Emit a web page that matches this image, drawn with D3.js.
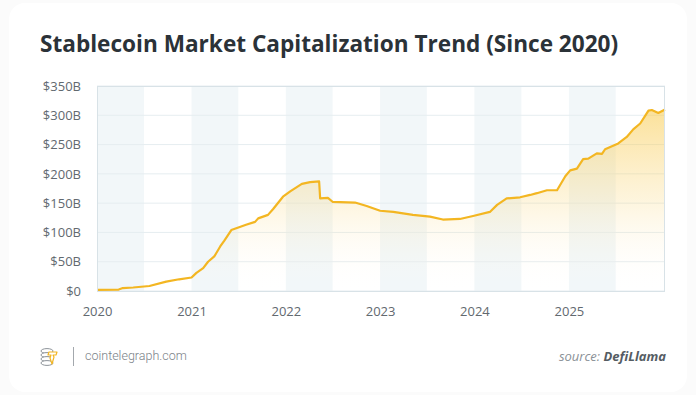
<!DOCTYPE html>
<html>
<head>
<meta charset="utf-8">
<title>Stablecoin Market Capitalization Trend</title>
<script src="https://cdn.jsdelivr.net/npm/d3@7"></script>
<style>
  html, body { margin: 0; padding: 0; background: #fbfbfb; }
  svg { display: block; }
</style>
</head>
<body>
<script>
// data (billions of USD)
var dates = ["2020-01-01","2020-03-25","2020-04-10","2020-05-20","2020-07-22","2020-09-25","2020-11-14","2021-01-01",
  "2021-01-20","2021-02-15","2021-03-06","2021-03-30","2021-04-22","2021-05-08","2021-06-04","2021-06-23","2021-07-31",
  "2021-09-04","2021-09-16","2021-10-24","2021-11-13","2021-12-21","2022-01-18","2022-03-04","2022-04-05","2022-05-10",
  "2022-05-14","2022-06-13","2022-07-02","2022-09-26","2022-11-10","2023-01-01","2023-02-21","2023-05-08","2023-07-13",
  "2023-09-01","2023-11-06","2023-12-27","2024-03-01","2024-03-29","2024-05-05","2024-06-26","2024-08-04","2024-08-30",
  "2024-10-08","2024-11-16","2024-12-18","2025-01-06","2025-02-01","2025-02-25","2025-03-17","2025-04-19","2025-05-09",
  "2025-05-21","2025-07-11","2025-08-13","2025-09-07","2025-10-04","2025-11-05","2025-11-18","2025-12-13","2026-01-08"];
var caps = [2,2.5,5,6,8.5,16,20,23,
  31,39,50,59,76,86,104,107,113,
  118,124,130,140,161,170,183,186,187,
  158,159,152,151,145,137,135,130,127,
  122,123,128,135,147,158,160,164,167,
  172,172,196,206,209,225,226,235,234,
  242,252,263,276,286,308,309,304,310];
var yTicks = [0, 50, 100, 150, 200, 250, 300, 350];
var yearTicks = [2020, 2021, 2022, 2023, 2024, 2025];

var W = 696, H = 395;
var m = {left: 97, right: 665, top: 86, bottom: 291};
var parse = d3.timeParse("%Y-%m-%d");
var data = dates.map(function (d, i) { return {date: parse(d), v: caps[i]}; });

var svg = d3.select("body").append("svg").attr("width", W).attr("height", H);

// card
svg.append("rect").attr("x", 9).attr("y", 3).attr("width", W - 18).attr("height", H - 6)
  .attr("rx", 16).attr("fill", "#ffffff");

svg.append("text").attr("x", 40).attr("y", 52)
  .attr("font-family", "Open Sans").attr("font-weight", 700).attr("font-size", 22.6)
  .attr("fill", "#2b3238")
  .text("Stablecoin Market Capitalization Trend (Since 2020)");

var x = d3.scaleTime().domain([parse("2020-01-01"), parse("2026-01-08")]).range([m.left, m.right]);
var y = d3.scaleLinear().domain([0, 350]).range([m.bottom, m.top]);

// half-year bands
svg.append("g").selectAll("rect").data(yearTicks).enter().append("rect")
  .attr("x", function (d) { return x(new Date(d, 0, 1)); })
  .attr("width", function (d) { return x(new Date(d, 6, 1)) - x(new Date(d, 0, 1)); })
  .attr("y", m.top).attr("height", m.bottom - m.top)
  .attr("fill", "#f2f7f9");

// gridlines
svg.append("g").selectAll("line").data(yTicks).enter().append("line")
  .attr("x1", m.left).attr("x2", m.right)
  .attr("y1", function (d) { return y(d); }).attr("y2", function (d) { return y(d); })
  .attr("stroke", "#e6edf0").attr("stroke-width", 1);

var defs = svg.append("defs");
var grad = defs.append("linearGradient").attr("id", "fillGrad")
  .attr("gradientUnits", "userSpaceOnUse").attr("x1", 0).attr("x2", 0).attr("y1", m.top).attr("y2", m.bottom);
grad.append("stop").attr("offset", "0%").attr("stop-color", "#f8c842").attr("stop-opacity", 0.65);
grad.append("stop").attr("offset", "55%").attr("stop-color", "#f9d473").attr("stop-opacity", 0.25);
grad.append("stop").attr("offset", "100%").attr("stop-color", "#ffffff").attr("stop-opacity", 0);

var area = d3.area().x(function (d) { return x(d.date); }).y0(m.bottom).y1(function (d) { return y(d.v); });
var line = d3.line().x(function (d) { return x(d.date); }).y(function (d) { return y(d.v); });

svg.append("path").datum(data).attr("d", area).attr("fill", "url(#fillGrad)");
svg.append("path").datum(data).attr("d", line).attr("fill", "none")
  .attr("stroke", "#f3b622").attr("stroke-width", 2.2).attr("stroke-linejoin", "round");

// plot frame
svg.append("rect").attr("x", m.left + 0.5).attr("y", m.top + 0.5)
  .attr("width", m.right - m.left - 1).attr("height", m.bottom - m.top)
  .attr("fill", "none").attr("stroke", "#d8e2e7");

// axes
var yAxis = d3.axisLeft(y).tickValues(yTicks).tickSize(0).tickPadding(16)
  .tickFormat(function (d) { return d === 0 ? "$0" : "$" + d + "B"; });
var gy = svg.append("g").attr("transform", "translate(" + m.left + ",0)").call(yAxis);
gy.select(".domain").remove();
gy.selectAll("text").attr("font-family", "Open Sans").attr("font-size", 13).attr("fill", "#62696f");

var xAxis = d3.axisBottom(x).tickValues(yearTicks.map(function (d) { return new Date(d, 0, 1); }))
  .tickSize(0).tickPadding(16).tickFormat(d3.timeFormat("%Y"));
var gx = svg.append("g").attr("transform", "translate(0," + m.bottom + ")").call(xAxis);
gx.select(".domain").remove();
gx.selectAll("text").attr("font-family", "Open Sans").attr("font-size", 13).attr("fill", "#62696f");

// footer
var logo = svg.append("g").attr("transform", "translate(41,348)");
[0, 4, 8, 12].forEach(function (dy) {
  logo.append("ellipse").attr("cx", 6).attr("cy", 3 + dy).attr("rx", 6).attr("ry", 2.4)
    .attr("fill", "#fff").attr("stroke", "#8d9399").attr("stroke-width", 1);
});
logo.append("path").attr("d", "M8,4 L16,4 L15,7 L12,7 L13,9 L11,16 L9,10 L10,7 L7,7 Z")
  .attr("fill", "#fff").attr("stroke", "#f3b622").attr("stroke-width", 1.2).attr("stroke-linejoin", "round");
svg.append("line").attr("x1", 73.5).attr("x2", 73.5).attr("y1", 347).attr("y2", 366)
  .attr("stroke", "#a3a8ad").attr("stroke-width", 1);
svg.append("text").attr("x", 85).attr("y", 360)
  .attr("font-family", "Roboto").attr("font-weight", 300).attr("font-size", 12.5).attr("fill", "#7b8288")
  .text("cointelegraph.com");

var src = svg.append("text").attr("x", 666).attr("y", 361).attr("text-anchor", "end")
  .attr("font-family", "Open Sans").attr("font-style", "italic").attr("font-size", 13);
src.append("tspan").attr("fill", "#8a9096").text("source: ");
src.append("tspan").attr("fill", "#555c63").attr("font-weight", 700).text("DefiLlama");
</script>
</body>
</html>
